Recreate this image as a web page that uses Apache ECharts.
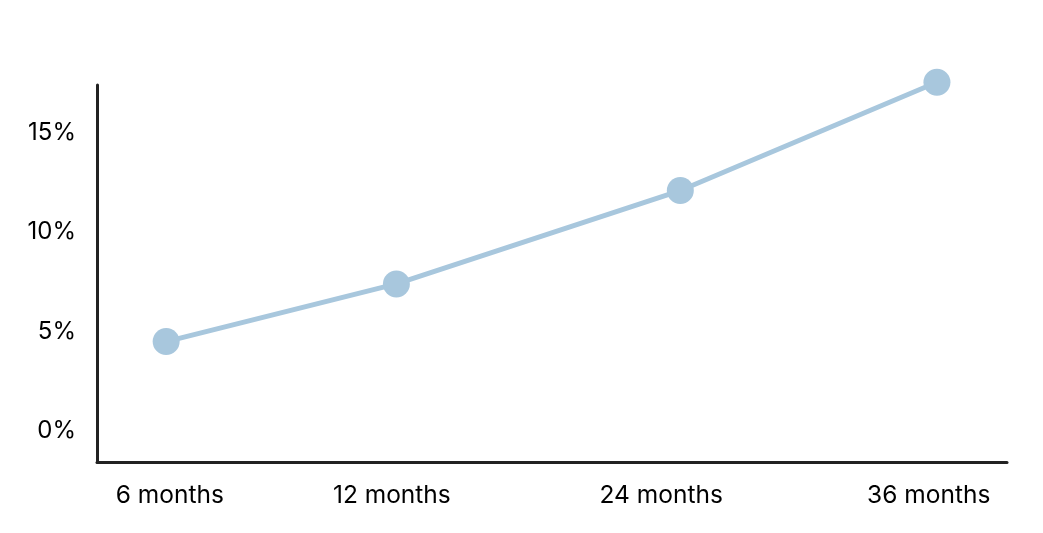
<!DOCTYPE html>
<html>
<head>
<meta charset="utf-8">
<script src="https://cdn.jsdelivr.net/npm/echarts@6/dist/echarts.min.js"></script>
<style>html,body{margin:0;padding:0;background:#fff;}#c{width:1043px;height:533px;}</style>
</head>
<body>
<div id="c"></div>
<script>
// Data
const categories = ['6 months', '12 months', '24 months', '36 months'];
const pointPositions = [7.6, 32.9, 64.1, 92.3];   // horizontal placement of each point (axis units 0-100)
const labelPositions = [8.0, 32.4, 62.0, 91.4];   // horizontal placement of each category label
const values = [4.5, 7.4, 12.1, 17.55];            // percent
const yTicks = [0, 5, 10, 15];

const chart = echarts.init(document.getElementById('c'), null, {renderer: 'canvas'});
const font = 'Inter';
chart.setOption({
  animation: false,
  backgroundColor: '#ffffff',
  grid: {left: 97, right: 36, top: 85, bottom: 71, containLabel: false},
  xAxis: {
    type: 'value', min: 0, max: 100,
    axisLine: {show: true, onZero: false, lineStyle: {color: '#222222', width: 3}},
    axisTick: {show: false},
    splitLine: {show: false},
    axisLabel: {
      customValues: labelPositions,
      formatter: function (v) {
        const i = labelPositions.indexOf(v);
        return i >= 0 ? categories[i] : '';
      },
      color: '#000000', fontFamily: font, fontSize: 24.5, margin: 21
    }
  },
  yAxis: {
    type: 'value', min: -1.56, max: 17.41,
    axisLine: {show: true, onZero: false, lineStyle: {color: '#222222', width: 3}},
    axisTick: {show: false},
    splitLine: {show: false},
    axisLabel: {
      customValues: yTicks,
      formatter: function (v) { return v + '%'; },
      color: '#000000', fontFamily: font, fontSize: 24, margin: 21
    }
  },
  series: [{
    type: 'line',
    data: values.map((v, i) => [pointPositions[i], v]),
    clip: false,
    symbol: 'circle',
    symbolSize: 27,
    lineStyle: {color: '#a8c7dd', width: 5},
    itemStyle: {color: '#a8c7dd'}
  }]
});
</script>
</body>
</html>
